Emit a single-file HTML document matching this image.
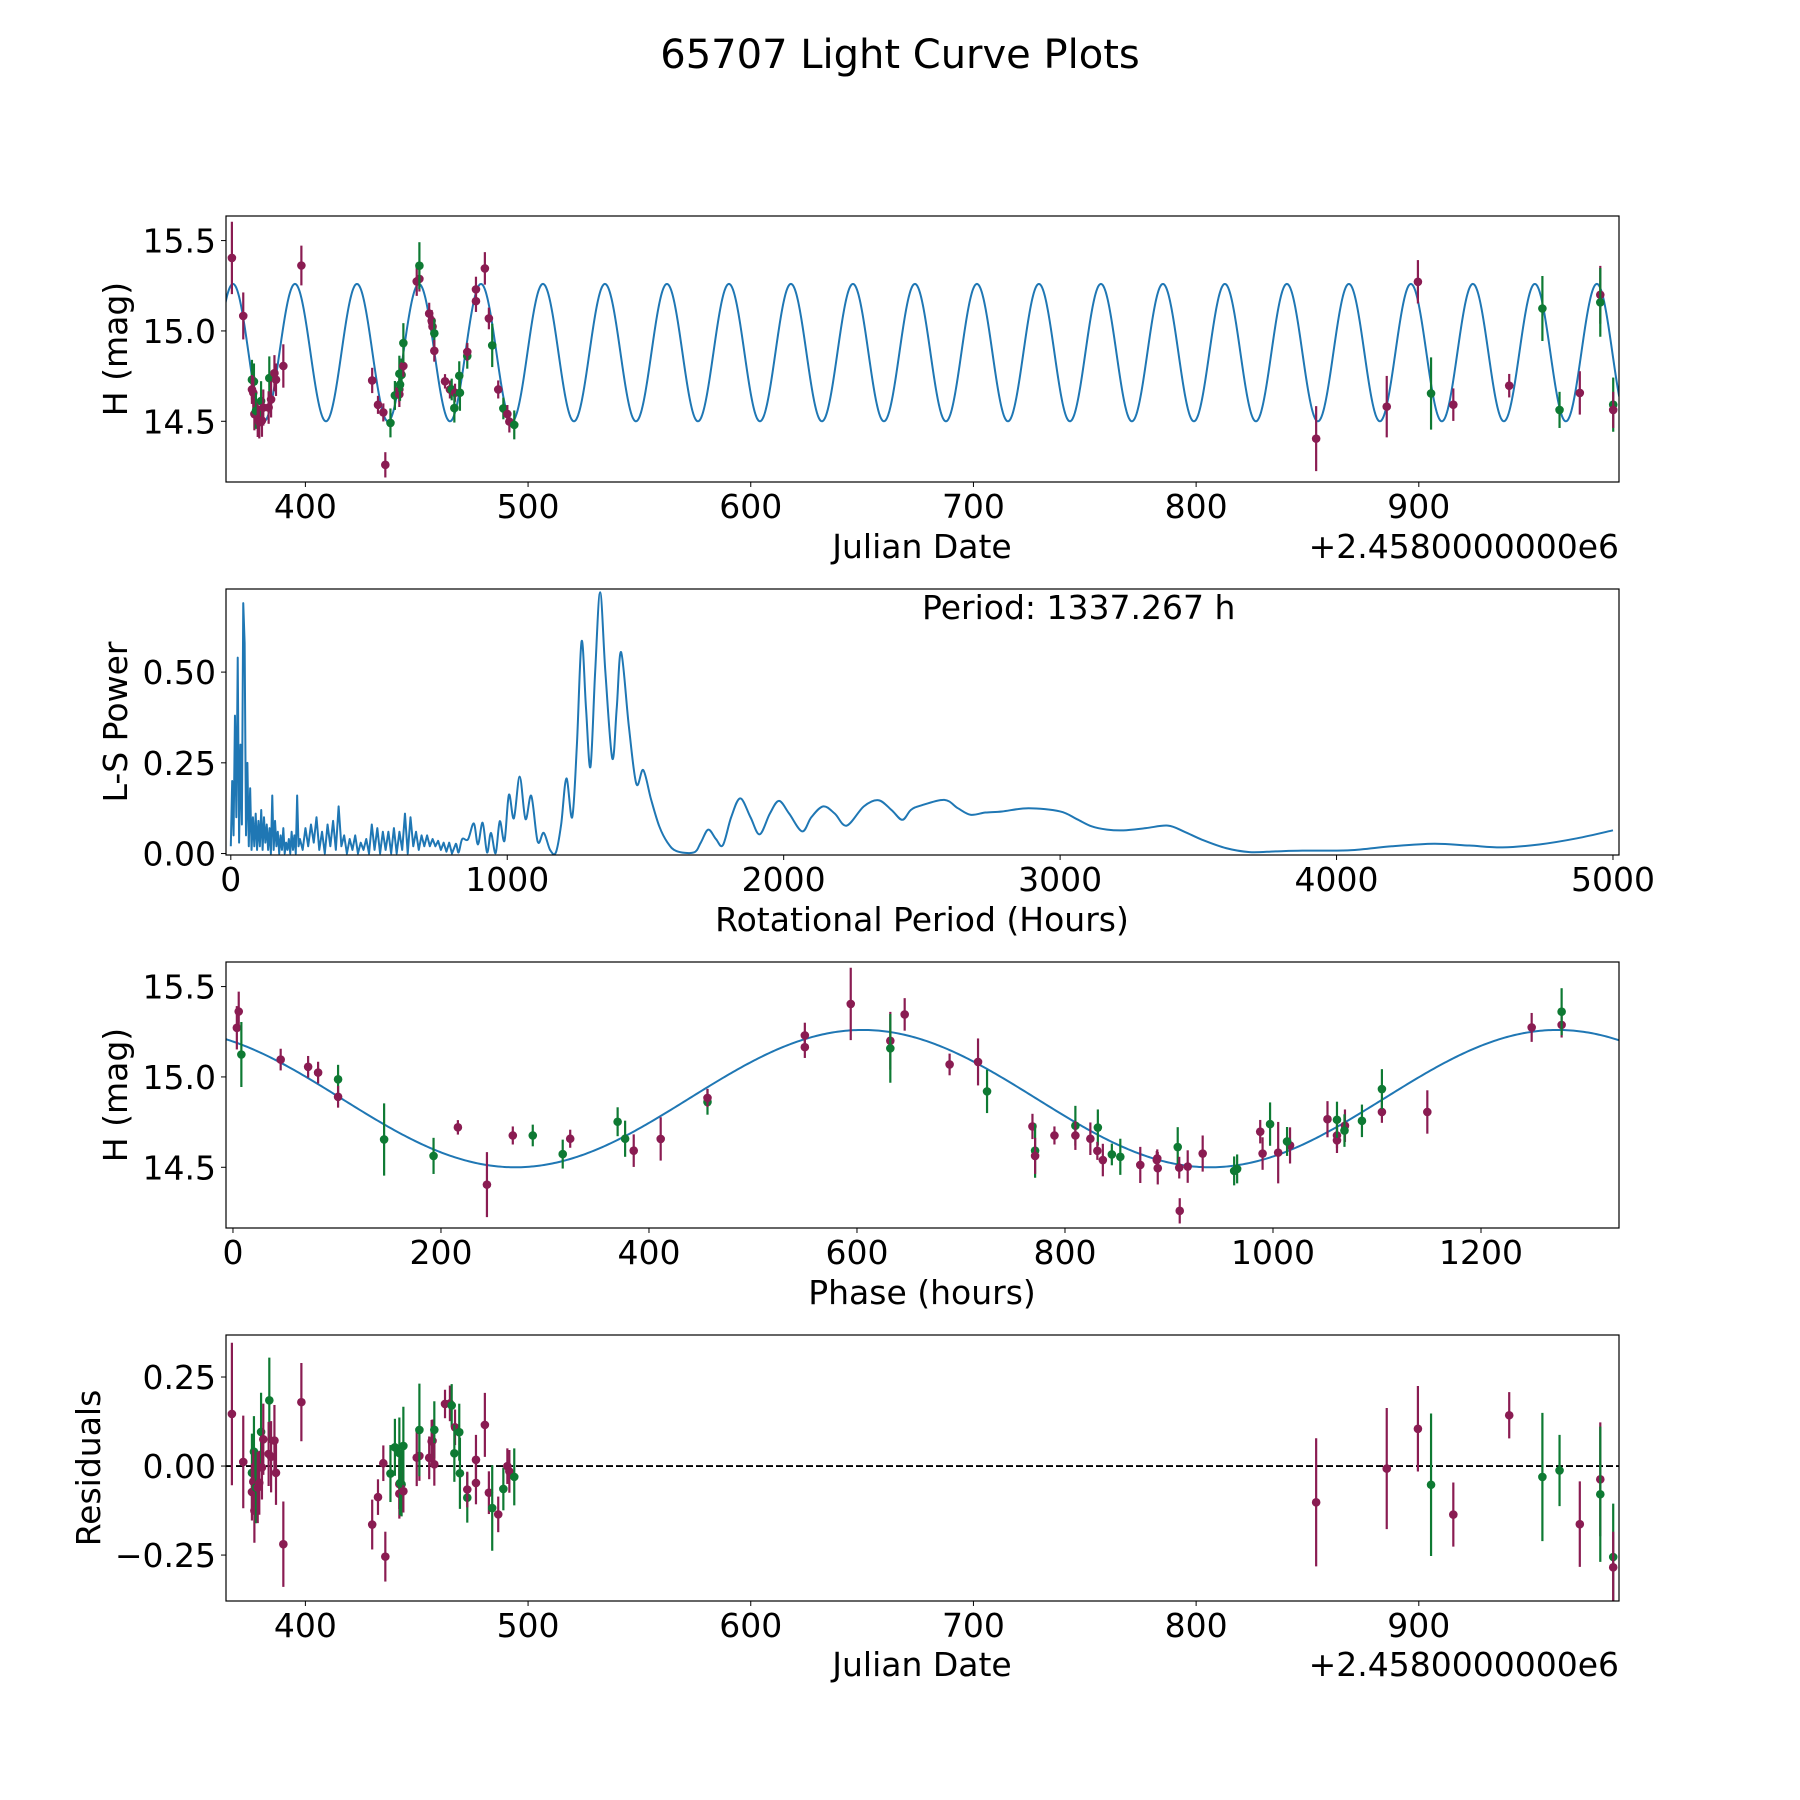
<!DOCTYPE html>
<html><head><meta charset="utf-8"><title>65707 Light Curve Plots</title>
<style>html,body{margin:0;padding:0;background:#fff}svg{display:block}text{font-family:"DejaVu Sans","Liberation Sans",sans-serif;fill:#000}</style>
</head><body>
<svg id="fig" width="1800" height="1800" viewBox="0 0 1800 1800" xmlns="http://www.w3.org/2000/svg">
<rect width="1800" height="1800" fill="#fff"/>
<text x="900" y="68" font-size="40" text-anchor="middle">65707 Light Curve Plots</text>
</svg>
<script>
// ---- observation data ----
const obsTimes = [367.0,372.1,376.0,376.9,376.0,376.6,377.1,377.8,378.6,379.3,380.1,380.5,381.1,383.8,383.5,384.6,386.1,386.8,390.1,398.2,430.0,432.6,435.0,435.9,438.2,440.2,442.2,442.2,442.5,442.2,443.2,444.0,444.0,450.0,451.2,451.2,455.6,456.7,457.1,457.9,457.9,462.7,464.9,465.7,467.2,466.9,469.4,469.1,472.7,472.7,476.6,476.6,480.6,482.4,483.9,486.6,488.9,490.7,491.6,493.8,853.9,885.6,899.6,905.5,915.5,940.6,955.5,963.2,972.3,981.5,981.5,987.3,987.3];
const obsMags = [15.404,15.083,14.73,14.72,14.676,14.658,14.54,14.558,14.513,14.495,14.612,14.504,14.576,14.739,14.576,14.621,14.766,14.73,14.806,15.362,14.726,14.591,14.549,14.259,14.491,14.643,14.649,14.676,14.703,14.763,14.757,14.806,14.933,15.274,15.288,15.361,15.096,15.056,15.024,14.987,14.89,14.721,14.676,14.676,14.658,14.573,14.658,14.752,14.861,14.884,15.165,15.23,15.346,15.069,14.92,14.676,14.571,14.54,14.498,14.48,14.404,14.581,15.272,14.654,14.592,14.697,15.124,14.563,14.657,15.2,15.158,14.592,14.563];
const obsErrs = [0.2,0.13,0.11,0.1,0.08,0.09,0.09,0.1,0.1,0.09,0.11,0.09,0.1,0.12,0.09,0.1,0.1,0.09,0.12,0.11,0.07,0.05,0.05,0.07,0.08,0.08,0.07,0.07,0.09,0.1,0.09,0.06,0.11,0.08,0.07,0.13,0.06,0.06,0.06,0.08,0.06,0.04,0.05,0.06,0.05,0.08,0.1,0.08,0.07,0.05,0.06,0.07,0.09,0.06,0.12,0.05,0.06,0.05,0.06,0.08,0.18,0.17,0.12,0.2,0.09,0.065,0.18,0.1,0.12,0.16,0.19,0.15,0.1];
const obsFilters = ['m','m','g','g','m','m','m','g','m','m','g','m','m','g','m','m','m','m','m','m','m','m','m','m','g','g','m','m','g','g','g','m','g','m','m','g','m','m','m','g','m','m','m','g','m','g','g','g','g','m','m','m','m','m','g','m','g','m','m','g','m','m','m','g','m','m','g','g','m','m','g','g','m'];
// ---- model / period ----
const modelPeak = 451.0, modelPeriod = 27.84, modelMid = 14.88, modelAmp = 0.38;
const rotPeriodHours = 1337.267, phaseEpoch = 342.25;
// ---- periodogram ----
const lsPeriods = [0,5,10,15,20,25,30,35,40,45,50,55,60,65,70,75,80,85,90,95,100,105,110,115,120,125,130,135,140,145,150,155,160,165,170,175,180,185,190,195,200,205,210,215,220,225,230,235,240,245,250,
260,270,280,290,300,310,320,330,340,350,360,370,380,390,400,410,420,430,440,450,460,470,480,490,500,510,520,530,540,550,560,570,580,590,600,610,620,630,640,650,660,670,680,690,700,710,720,730,740,750,760,770,780,790,800,
814,824,837,858,879,894,911,927,941,958,973,990,1006,1024,1045,1066,1087,1110,1132,1155,1176,1195,1214,1235,1252,1269,1285,1301,1318,1336,1355,1380,1396,1412,1440,1467,1492,1520,1550,1580,1612,1675,1700,1727,1755,1780,1810,1843,1880,1913,1950,1983,2020,2067,2100,2143,2185,2228,2290,2343,2390,2429,2460,2495,2581,2630,2676,2730,2790,2886,3000,3060,3114,3170,3229,3310,3390,3450,3514,3600,3686,3780,3876,4048,4200,4352,4480,4600,4733,4870,5000];
const lsPowers = [0.02,0.2,0.05,0.38,0.1,0.54,0.03,0.3,0.08,0.69,0.58,0.05,0.25,0.02,0.18,0.01,0.1,0.02,0.11,0.01,0.09,0.02,0.12,0.01,0.1,0.03,0.08,0.01,0.07,0.0,0.16,0.01,0.09,0.02,0.06,0.0,0.05,0.01,0.07,0.0,0.03,0.01,0.04,0.0,0.06,0.01,0.05,0.0,0.16,0.02,0.04,
0.01,0.07,0.02,0.08,0.03,0.1,0.01,0.06,0.0,0.08,0.02,0.09,0.01,0.13,0.02,0.05,0.0,0.04,0.01,0.05,0.0,0.03,0.01,0.04,0.0,0.08,0.01,0.07,0.0,0.06,0.01,0.06,0.0,0.07,0.0,0.06,0.01,0.11,0.0,0.1,0.02,0.06,0.01,0.05,0.02,0.05,0.02,0.04,0.02,0.035,0.01,0.03,0.005,0.03,0.0,
0.027,0.003,0.04,0.039,0.083,0.025,0.085,0.003,0.057,0.001,0.089,0.035,0.162,0.097,0.212,0.095,0.159,0.033,0.057,0.01,0.003,0.08,0.207,0.10,0.3,0.585,0.4,0.239,0.5,0.72,0.5,0.262,0.4,0.555,0.35,0.192,0.23,0.15,0.075,0.03,0.007,0.003,0.03,0.066,0.04,0.023,0.1,0.152,0.1,0.053,0.11,0.145,0.11,0.061,0.1,0.13,0.11,0.077,0.13,0.147,0.12,0.093,0.12,0.132,0.148,0.125,0.107,0.113,0.116,0.125,0.116,0.095,0.075,0.066,0.064,0.07,0.077,0.06,0.038,0.015,0.004,0.006,0.008,0.009,0.02,0.027,0.022,0.017,0.025,0.042,0.064];
const lsSmoothStart = 106;
const dayTicks = [400,500,600,700,800,900];
const magTicks = [14.5,15.0,15.5];
const lsXTicks = [0,1000,2000,3000,4000,5000];
const lsYTicks = [0,0.25,0.5];
const phaseTicks = [0,200,400,600,800,1000,1200];
const resTicks = [-0.25,0,0.25];

const NS='http://www.w3.org/2000/svg';
const svg=document.getElementById('fig');
const COL={m:'#8a1c52',g:'#0e7a33'};
const FS=33;
function el(tag,attrs,parent){const e=document.createElementNS(NS,tag);for(const k in attrs)e.setAttribute(k,attrs[k]);(parent||svg).appendChild(e);return e;}
function model(t){return modelMid+modelAmp*Math.cos(2*Math.PI*(t-modelPeak)/modelPeriod);}
const L=226,R=1619;
function makeAxes(name,top,bot,xmin,xmax,ymin,ymax){
  const g=el('g',{});
  
  
  const sx=v=>L+(v-xmin)/(xmax-xmin)*(R-L);
  const sy=v=>bot-(v-ymin)/(ymax-ymin)*(bot-top);
  const clipId='clip-'+name;
  const cp=el('clipPath',{id:clipId},g);el('rect',{x:L,y:top,width:R-L,height:bot-top},cp);
  const inner=el('g',{'clip-path':'url(#'+clipId+')'},g);
  return {g,inner,sx,sy,top,bot};
}
function drawFrame(a){const f=el('rect',{x:L,y:a.top,width:R-L,height:a.bot-a.top,fill:'none',stroke:'#000','stroke-width':1.2},a.g);}
function xTicks(a,ticks,fmt,ly){for(const v of ticks){const x=a.sx(v);el('line',{x1:x,x2:x,y1:a.bot,y2:a.bot+5,stroke:'#000','stroke-width':1},a.g);const t=el('text',{x:x,y:ly,'font-size':FS,'text-anchor':'middle'},a.g);t.textContent=fmt(v);}}
function yTicks(a,ticks,fmt){for(const v of ticks){const y=a.sy(v);el('line',{x1:L-5,x2:L,y1:y,y2:y,stroke:'#000','stroke-width':1},a.g);const t=el('text',{x:L-10,y:y+12,'font-size':FS,'text-anchor':'end'},a.g);t.textContent=fmt(v);}}
function label(a,txt,x,y,name,rot,anchor){const t=el('text',{x:x,y:y,'font-size':FS,'text-anchor':anchor||'middle'},a.g);if(rot)t.setAttribute('transform','rotate(-90 '+x+' '+y+')');t.textContent=txt;}
function points(a,xs,ys,errs){for(let i=0;i<xs.length;i++){const c=COL[obsFilters[i]];const x=a.sx(xs[i]);const p=el('g',{},a.inner);el('line',{x1:x,x2:x,y1:a.sy(ys[i]+errs[i]),y2:a.sy(ys[i]-errs[i]),stroke:c,'stroke-width':2.2},p);el('circle',{cx:x,cy:a.sy(ys[i]),r:4.3,fill:c},p);}}
function pathFrom(xs,ys,a){let d='';for(let i=0;i<xs.length;i++)d+=(i?'L':'M')+a.sx(xs[i]).toFixed(2)+','+a.sy(ys[i]).toFixed(2);return d;}
const fmt2=v=>(v<0?'\u2212':'')+Math.abs(v).toFixed(2);
const offs='+2.4580000000e6';

// Panel 1
const A1=makeAxes('light-curve-axes',216,482,364.35,989.9,14.164,15.636);
{const ts=[],hs=[];for(let t=364;t<=990;t+=0.25){ts.push(t);hs.push(model(t));}
 const p=el('path',{d:pathFrom(ts,hs,A1),fill:'none',stroke:'#1f77b4','stroke-width':2},A1.inner);}
points(A1,obsTimes,obsMags,obsErrs);
drawFrame(A1);xTicks(A1,dayTicks,v=>String(v),518);yTicks(A1,magTicks,v=>v.toFixed(1));
label(A1,'Julian Date',922,558,'x-axis-title');label(A1,offs,1619,558,'x-offset-text',false,'end');label(A1,'H (mag)',127,349,'y-axis-title',true);

// Panel 2
const A2=makeAxes('periodogram-axes',589,855,-17.4,5021.8,-0.004,0.729);
{const xs=lsPeriods.map(A2.sx),ys=lsPowers.map(A2.sy);
 let d='M'+xs[0].toFixed(2)+','+ys[0].toFixed(2);
 for(let i=1;i<=lsSmoothStart;i++)d+='L'+xs[i].toFixed(2)+','+ys[i].toFixed(2);
 for(let i=lsSmoothStart;i<xs.length-1;i++){const i0=Math.max(i-1,0),i3=Math.min(i+2,xs.length-1);
   const c1x=xs[i]+(xs[i+1]-xs[i0])/6,c1y=ys[i]+(ys[i+1]-ys[i0])/6,c2x=xs[i+1]-(xs[i3]-xs[i])/6,c2y=ys[i+1]-(ys[i3]-ys[i])/6;
   d+='C'+c1x.toFixed(2)+','+c1y.toFixed(2)+' '+c2x.toFixed(2)+','+c2y.toFixed(2)+' '+xs[i+1].toFixed(2)+','+ys[i+1].toFixed(2);}
 const p=el('path',{d:d,fill:'none',stroke:'#1f77b4','stroke-width':2,'stroke-linejoin':'round'},A2.inner);}
drawFrame(A2);xTicks(A2,lsXTicks,v=>String(v),891);yTicks(A2,lsYTicks,fmt2);
label(A2,'Rotational Period (Hours)',922,931,'x-axis-title');label(A2,'L-S Power',127,722,'y-axis-title',true);
label(A2,'Period: '+rotPeriodHours.toFixed(3)+' h',922,619,'period-annotation',false,'start');

// Panel 3
const A3=makeAxes('phase-axes',962,1228,-6.7,1332.7,14.164,15.636);
{const ps=[],hs=[];for(let p=-7;p<=1334;p+=2){ps.push(p);hs.push(model(phaseEpoch+p/24));}
 const c=el('path',{d:pathFrom(ps,hs,A3),fill:'none',stroke:'#1f77b4','stroke-width':2},A3.inner);}
{const ph=obsTimes.map(t=>{let v=((t-phaseEpoch)*24)%rotPeriodHours;if(v<0)v+=rotPeriodHours;return v;});points(A3,ph,obsMags,obsErrs);}
drawFrame(A3);xTicks(A3,phaseTicks,v=>String(v),1264);yTicks(A3,magTicks,v=>v.toFixed(1));
label(A3,'Phase (hours)',922,1304,'x-axis-title');label(A3,'H (mag)',127,1095,'y-axis-title',true);

// Panel 4
const A4=makeAxes('residuals-axes',1335,1601,364.35,989.9,-0.379,0.368);
{const z=el('line',{x1:L,x2:R,y1:A4.sy(0),y2:A4.sy(0),stroke:'#000','stroke-width':1.8,'stroke-dasharray':'7,3'},A4.inner);}
points(A4,obsTimes,obsTimes.map((t,i)=>obsMags[i]-model(t)),obsErrs);
drawFrame(A4);xTicks(A4,dayTicks,v=>String(v),1637);yTicks(A4,resTicks,fmt2);
label(A4,'Julian Date',922,1676,'x-axis-title');label(A4,offs,1619,1676,'x-offset-text',false,'end');label(A4,'Residuals',100,1468,'y-axis-title',true);
</script>
</body></html>
